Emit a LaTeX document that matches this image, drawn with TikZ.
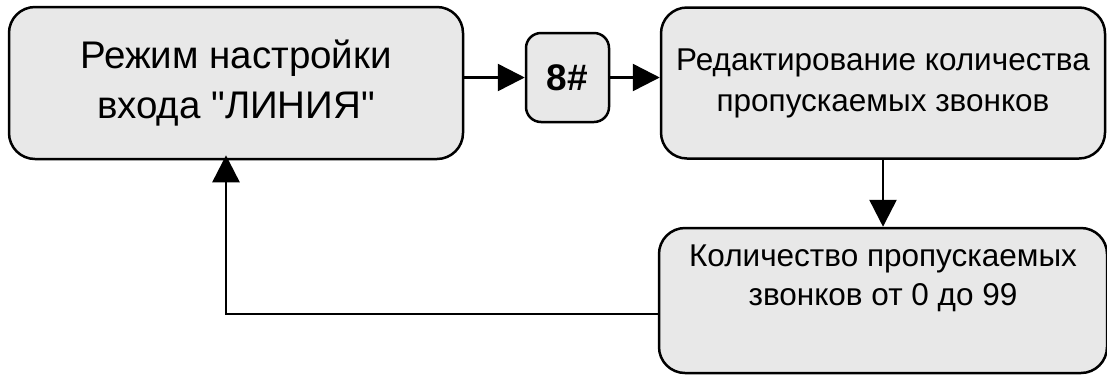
\documentclass[tikz,border=0pt]{standalone}
\usepackage{fontspec}
\setmainfont{Liberation Sans}[Ligatures=TeXOff]
\usetikzlibrary{arrows.meta}

\tikzset{
	stagebox/.style={draw, line width=2.5pt, fill=black!9, rounded corners=26pt, align=center, inner sep=0pt},
	keybox/.style={draw, line width=2.5pt, fill=black!9, rounded corners=15pt, align=center, inner sep=0pt, font=\bfseries\fontsize{37}{40}\selectfont},
	flow/.style={line width=2.5pt, -{Triangle[length=27pt,width=27pt]}}
}

\begin{document}
\begin{tikzpicture}[x=1pt,y=-1pt]
		\useasboundingbox (0,0) rectangle (1107,376);

		\node[stagebox, minimum width=454pt, minimum height=152pt, font=\fontsize{38.5}{50}\selectfont] (mode) at (236,83) {Режим настройки\\входа "ЛИНИЯ"};
		\node[keybox, minimum width=83pt, minimum height=89pt] (key) at (567.5,77.5) {8\#};
		\node[stagebox, minimum width=444pt, minimum height=151pt, font=\fontsize{31.5}{41}\selectfont] (edit) at (883,83) {Редактирование количества\\пропускаемых звонков};
		\node[stagebox, minimum width=448pt, minimum height=145pt, font=\fontsize{31.5}{39}\selectfont] (count) at (883,300.5) {Количество пропускаемых\\звонков от 0 до 99\\ \strut};
		\coordinate (back) at (226,314);

		\draw[flow] (key.west -| mode.east) -- (key.west);
		\draw[flow] (key.east) -- (key.east -| edit.west);
		\draw[flow] (edit.south) -- (count.north);
		\draw[flow] (count.west |- back) -- (back) -- ([yshift=5pt]back |- mode.south); % back to the mode box
	\end{tikzpicture}
\end{document}
